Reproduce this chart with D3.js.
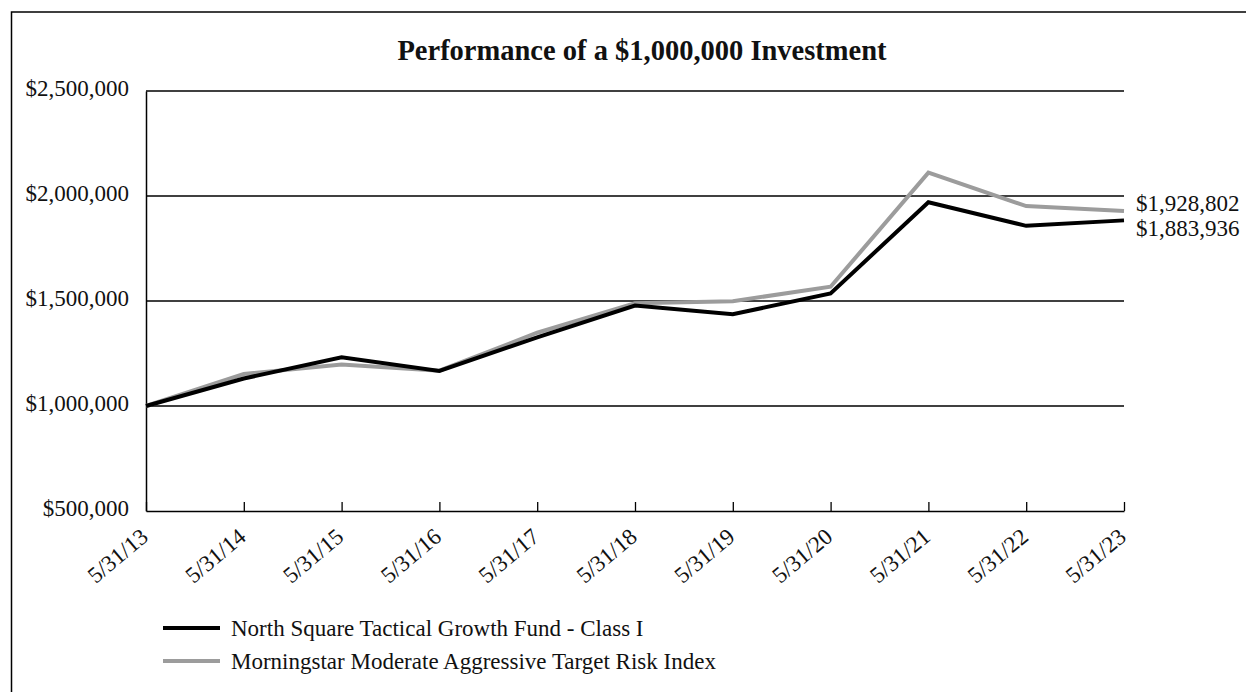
<!DOCTYPE html>
<html>
<head>
<meta charset="utf-8">
<script src="https://cdn.jsdelivr.net/npm/d3@7"></script>
<style>
    body { margin: 0; background: #fff; }
    text { font-family: "Liberation Serif", "Times New Roman", serif; fill: #111; }
</style>
</head>
<body>
<script>
//chart data
var dates = ["5/31/13", "5/31/14", "5/31/15", "5/31/16", "5/31/17", "5/31/18",
             "5/31/19", "5/31/20", "5/31/21", "5/31/22", "5/31/23"];
var fundValues = [1000000, 1131000, 1232000, 1167000, 1327000, 1478000,
                  1437000, 1536000, 1970000, 1858000, 1883936];
var indexValues = [1000000, 1152000, 1198000, 1168000, 1349000, 1489000,
                   1499000, 1568000, 2111000, 1952000, 1928802];
var yTicks = [500000, 1000000, 1500000, 2000000, 2500000];
var seriesNames = ["North Square Tactical Growth Fund - Class I",
                   "Morningstar Moderate Aggressive Target Risk Index"];
var seriesColors = ["#000000", "#9c9c9c"];

window.onload = drawChart();

function drawChart(){

    var width = 1246,
        height = 692;

    var svg = d3.select("body")
        .append("svg")
        .attr("width", width)
        .attr("height", height);

    //outer frame, runs off the right and bottom edges like the source
    svg.append("rect")
        .attr("x", 11.5)
        .attr("y", 12)
        .attr("width", width + 20)
        .attr("height", height + 20)
        .attr("fill", "none")
        .attr("stroke", "#000")
        .attr("stroke-width", 1.5);

    var left = 146, right = 1124, top = 91, bottom = 511;

    var x = d3.scalePoint()
        .domain(dates)
        .range([left, right]);

    var y = d3.scaleLinear()
        .domain([500000, 2500000])
        .range([bottom, top]);

    var fmt = d3.format("$,.0f");

    //title
    svg.append("text")
        .attr("x", 642)
        .attr("y", 60)
        .attr("text-anchor", "middle")
        .attr("font-size", 28.5)
        .attr("font-weight", "bold")
        .text("Performance of a $1,000,000 Investment");

    //horizontal gridlines
    svg.selectAll(".grid")
        .data(yTicks.slice(1))
        .enter()
        .append("line")
        .attr("class", "grid")
        .attr("x1", left)
        .attr("x2", right)
        .attr("y1", function(d){ return y(d); })
        .attr("y2", function(d){ return y(d); })
        .attr("stroke", "#000")
        .attr("stroke-width", 1.3);

    //y axis
    var yAxis = svg.append("g")
        .attr("transform", "translate(" + left + ",0)")
        .call(d3.axisLeft(y).tickValues(yTicks).tickFormat(fmt).tickSize(0).tickPadding(17));
    yAxis.select(".domain").attr("stroke", "#000").attr("stroke-width", 1.5);
    yAxis.selectAll("text")
        .attr("font-size", 23)
        .attr("dy", "0.2em");

    //x axis, ticks point up into the plot
    var xAxis = svg.append("g")
        .attr("transform", "translate(0," + bottom + ")")
        .call(d3.axisBottom(x).tickSize(-9).tickSizeOuter(0).tickPadding(0));
    xAxis.select(".domain").attr("stroke", "#000").attr("stroke-width", 1.5);
    xAxis.selectAll(".tick line").attr("stroke", "#000").attr("stroke-width", 1.3);
    xAxis.selectAll("text")
        .attr("font-size", 23)
        .attr("text-anchor", "end")
        .attr("y", 0)
        .attr("dy", 0)
        .attr("transform", "translate(3,28) rotate(-40)");

    //lines
    var line = d3.line()
        .x(function(d, i){ return x(dates[i]); })
        .y(function(d){ return y(d); });

    var series = [indexValues, fundValues];
    var colors = [seriesColors[1], seriesColors[0]];

    svg.selectAll(".series")
        .data(series)
        .enter()
        .append("path")
        .attr("class", "series")
        .attr("d", line)
        .attr("fill", "none")
        .attr("stroke", function(d, i){ return colors[i]; })
        .attr("stroke-width", 4)
        .attr("stroke-linejoin", "miter");

    //end value labels
    var last = dates[dates.length - 1];
    svg.append("text")
        .attr("x", x(last) + 12)
        .attr("y", y(indexValues[indexValues.length - 1]) - 8)
        .attr("dy", "0.33em")
        .attr("font-size", 23)
        .text(fmt(indexValues[indexValues.length - 1]));
    svg.append("text")
        .attr("x", x(last) + 12)
        .attr("y", y(fundValues[fundValues.length - 1]) + 8)
        .attr("dy", "0.33em")
        .attr("font-size", 23)
        .text(fmt(fundValues[fundValues.length - 1]));

    //legend
    var legend = svg.selectAll(".legend")
        .data(seriesNames)
        .enter()
        .append("g")
        .attr("class", "legend")
        .attr("transform", function(d, i){ return "translate(163," + (628 + i * 33) + ")"; });

    legend.append("line")
        .attr("x1", 0)
        .attr("x2", 57)
        .attr("stroke", function(d, i){ return seriesColors[i]; })
        .attr("stroke-width", 4);

    legend.append("text")
        .attr("x", 68)
        .attr("dy", "0.33em")
        .attr("font-size", 23)
        .text(function(d){ return d; });
}
</script>
</body>
</html>
